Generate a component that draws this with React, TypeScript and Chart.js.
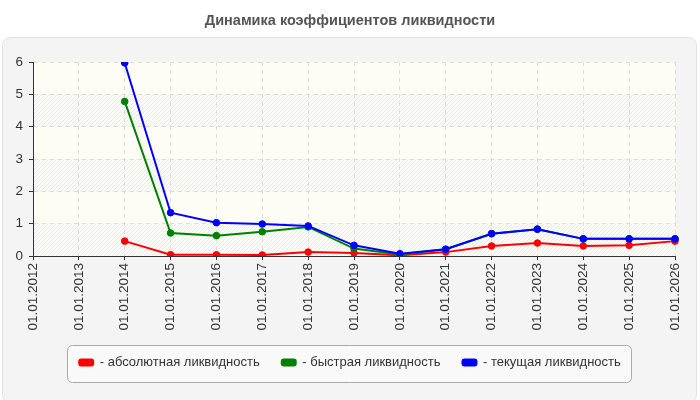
import React, { useEffect, useRef } from "react";
import { Chart, registerables } from "chart.js";

Chart.register(...registerables);

const categories = [
  "01.01.2012", "01.01.2013", "01.01.2014", "01.01.2015", "01.01.2016",
  "01.01.2017", "01.01.2018", "01.01.2019", "01.01.2020", "01.01.2021",
  "01.01.2022", "01.01.2023", "01.01.2024", "01.01.2025", "01.01.2026",
];
const absoluteLiquidity = [null, null, 0.46, 0.04, 0.04, 0.03, 0.12, 0.09, 0.02, 0.12, 0.31, 0.40, 0.31, 0.33, 0.46];
const quickLiquidity = [null, null, 4.78, 0.71, 0.63, 0.75, 0.90, 0.23, 0.05, 0.21, 0.69, 0.83, 0.53, 0.53, 0.53];
const currentLiquidity = [null, null, 5.97, 1.34, 1.03, 0.99, 0.93, 0.33, 0.07, 0.21, 0.69, 0.83, 0.53, 0.53, 0.53];
const seriesLabels = ["- абсолютная ликвидность", "- быстрая ликвидность", "- текущая ликвидность"];
const seriesColors = ["#ff0000", "#008000", "#0000ff"];
const titleText = "Динамика коэффициентов ликвидности";
const yMin = 0;
const yMax = 6;

const FONT = "'Liberation Sans', Arial, sans-serif";

function roundRect(ctx: CanvasRenderingContext2D, x: number, y: number, w: number, h: number, r: number) {
  ctx.beginPath();
  ctx.moveTo(x + r, y);
  ctx.lineTo(x + w - r, y);
  ctx.arcTo(x + w, y, x + w, y + r, r);
  ctx.lineTo(x + w, y + h - r);
  ctx.arcTo(x + w, y + h, x + w - r, y + h, r);
  ctx.lineTo(x + r, y + h);
  ctx.arcTo(x, y + h, x, y + h - r, r);
  ctx.lineTo(x, y + r);
  ctx.arcTo(x, y, x + r, y, r);
  ctx.closePath();
}

const backgroundPlugin = {
  id: "bgPanel",
  beforeDraw(chart: any) {
    const ctx: CanvasRenderingContext2D = chart.ctx;
    ctx.save();
    ctx.fillStyle = "#ffffff";
    ctx.fillRect(0, 0, chart.width, chart.height);
    // panel
    roundRect(ctx, 2.5, 37.5, 694, 365, 8);
    ctx.fillStyle = "#f4f4f4";
    ctx.fill();
    ctx.strokeStyle = "#e2e2e2";
    ctx.lineWidth = 1;
    ctx.stroke();

    // plot area
    const { left, top, right, bottom } = chart.chartArea;
    ctx.fillStyle = "#fdfdf6";
    ctx.fillRect(left, top, right - left, bottom - top);
    const pc = document.createElement("canvas");
    pc.width = 4;
    pc.height = 4;
    const p = pc.getContext("2d")!;
    p.fillStyle = "#fafaf6";
    p.fillRect(0, 0, 4, 4);
    p.strokeStyle = "rgba(0,0,0,0.06)";
    p.lineWidth = 1;
    p.beginPath();
    p.moveTo(0, 4);
    p.lineTo(4, 0);
    p.stroke();
    const pattern = ctx.createPattern(pc, "repeat");
    const ys = chart.scales.y;
    for (let v = yMin; v < yMax; v++) {
      if ((v - yMin) % 2 === 0) {
        const y0 = ys.getPixelForValue(v + 1);
        const y1 = ys.getPixelForValue(v);
        ctx.fillStyle = pattern as any;
        ctx.fillRect(left, y0, right - left, y1 - y0);
      }
    }

    // legend frame
    const lg = chart.legend;
    if (lg && lg.legendHitBoxes && lg.legendHitBoxes.length) {
      const hb = lg.legendHitBoxes;
      let minX = Infinity, maxX = -Infinity, minY = Infinity, maxY = -Infinity;
      hb.forEach((b: any) => {
        minX = Math.min(minX, b.left);
        maxX = Math.max(maxX, b.left + b.width);
        minY = Math.min(minY, b.top);
        maxY = Math.max(maxY, b.top + b.height);
      });
      const cy = (minY + maxY) / 2;
      roundRect(ctx, Math.round(minX - 12) + 0.5, Math.round(cy - 18) + 0.5, Math.round(maxX - minX + 22), 37, 5);
      ctx.fillStyle = "#f9f9f9";
      ctx.fill();
      ctx.strokeStyle = "#aaaaaa";
      ctx.stroke();
    }
    ctx.restore();
  },
};

export default function App() {
  const ref = useRef<HTMLCanvasElement | null>(null);

  useEffect(() => {
    if (!ref.current) return;
    const seriesData = [absoluteLiquidity, quickLiquidity, currentLiquidity];
    const chart = new Chart(ref.current, {
      type: "line",
      data: {
        labels: categories,
        datasets: seriesData.map((d, i) => ({
          label: seriesLabels[i],
          data: d,
          borderColor: seriesColors[i],
          backgroundColor: seriesColors[i],
          pointBackgroundColor: seriesColors[i],
          pointBorderColor: seriesColors[i],
          pointRadius: 3.3,
          pointBorderWidth: 1,
          borderWidth: 2,
          tension: 0,
          fill: false,
          order: 2 - i,
        })),
      },
      options: {
        responsive: false,
        animation: false,
        layout: { padding: { left: 0, right: 0, top: 0, bottom: 21 } },
        plugins: {
          title: {
            display: true,
            text: titleText,
            color: "#555555",
            font: { family: FONT, size: 14.5, weight: "bold" },
            padding: { top: 12, bottom: 32.6 },
          },
          legend: {
            display: true,
            position: "bottom",
            labels: {
              boxWidth: 14,
              boxHeight: 6,
              useBorderRadius: true,
              borderRadius: 2,
              padding: 22,
              color: "#333333",
              font: { family: FONT, size: 13 },
              sort: (a: any, b: any) => a.datasetIndex - b.datasetIndex,
            },
          },
          tooltip: { enabled: false },
        },
        scales: {
          x: {
            type: "category",
            offset: false,
            grid: {
              color: "#dddddd",
              tickColor: "#333333",
              tickLength: 4,
              drawTicks: true,
            },
            border: { display: true, color: "#333333", width: 1, dash: [4, 4] },
            ticks: {
              autoSkip: false,
              minRotation: 90,
              maxRotation: 90,
              padding: 3,
              color: "#333333",
              font: { family: FONT, size: 13.5 },
            },
            afterFit: (s: any) => { s.height = 78; },
          },
          y: {
            min: yMin,
            max: yMax,
            grid: {
              color: "#dddddd",
              tickColor: "#333333",
              tickLength: 4,
            },
            border: { display: true, color: "#333333", width: 1, dash: [4, 4] },
            ticks: {
              stepSize: 1,
              padding: 6,
              color: "#333333",
              font: { family: FONT, size: 13.5 },
            },
            afterFit: (s: any) => { s.width = 33; },
          },
          yRight: {
            position: "right",
            display: true,
            min: yMin,
            max: yMax,
            grid: { display: false },
            border: { display: false },
            ticks: { display: false },
            afterFit: (s: any) => { s.width = 25; },
          },
        },
      },
      plugins: [backgroundPlugin],
    } as any);
    return () => chart.destroy();
  }, []);

  return (
    <div style={{ position: "fixed", left: 0, top: 0, width: 700, height: 400, background: "#fff" }}>
      <canvas ref={ref} width={700} height={400} style={{ display: "block" }} />
    </div>
  );
}
